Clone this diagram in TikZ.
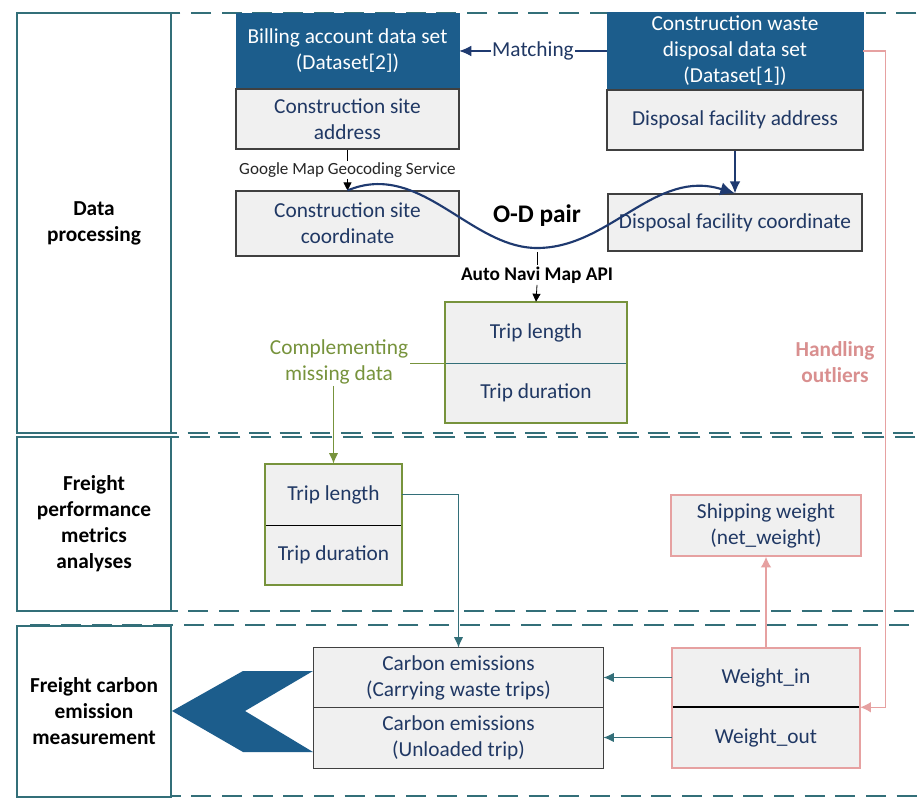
\documentclass[tikz,border=0pt]{standalone}
\usepackage{fontspec}
\setmainfont{Carlito}
\usetikzlibrary{fit,arrows.meta}
\definecolor{navy}{HTML}{203864}
\definecolor{curvecol}{HTML}{1F3A70}
\definecolor{tealc}{HTML}{336F79}
\definecolor{greenc}{HTML}{77933C}
\definecolor{pinkc}{HTML}{E6A1A1}
\definecolor{pinktext}{HTML}{D98F8F}
\definecolor{hblue}{HTML}{1C5D8C}
\definecolor{cellgray}{HTML}{F0F0F0}
\definecolor{edgegray}{HTML}{404040}
\tikzset{
  txt/.style={font=\fontsize{16}{19.5}\selectfont},
  sect/.style={draw=tealc, line width=1.5pt, dash pattern=on 15pt off 8pt},
  panel/.style={draw=tealc, line width=1.1pt, fill=white, inner sep=0pt},
  paneltext/.style={font=\fontsize{16}{19.5}\selectfont\bfseries, text=black, align=center, inner sep=0pt},
  hdr/.style={fill=hblue, draw=hblue, inner sep=0pt},
  hdrtext/.style={txt, text=white, align=center, inner sep=0pt},
  cell/.style={fill=cellgray, draw=edgegray, line width=0.8pt, inner sep=0pt},
  halfcell/.style={fill=cellgray, inner sep=0pt},
  celltext/.style={txt, text=navy, align=center, inner sep=0pt},
  navyarrow/.style={draw=curvecol, -{Latex[length=9pt,width=8pt]}},
  tealarrow/.style={draw=tealc, line width=1pt, -{Latex[length=8pt,width=7pt]}},
  pinkarrow/.style={draw=pinkc, line width=1pt, -{Latex[length=8pt,width=8pt]}},
  blackarrow/.style={draw=black, line width=0.6pt, -{Triangle[length=6pt,width=6pt]}},
}
\begin{document}
\begin{tikzpicture}[x=0.75pt,y=-0.75pt]
\clip (0,0) rectangle (920,798);
\fill[white] (0,0) rectangle (920,798);

% dashed sections
\draw[sect] (25,13) rectangle (940,433);
\draw[sect] (25,437) rectangle (940,611);
\draw[sect] (25,625) rectangle (940,796);

% left panels
\node[panel, fit={(17,13) (171,433)}] (p1) {};
\node[paneltext] (p1t) at (p1.center) {Data\\processing};
\node[panel, fit={(17,437) (171,611)}] (p2) {};
\node[paneltext] (p2t) at (p2.center) {Freight\\performance\\metrics\\analyses};
\node[panel, fit={(17,626) (171,797)}] (p3) {};
\node[paneltext] (p3t) at (p3.center) {Freight carbon\\emission\\measurement};

% top boxes
\node[hdr, fit={(236,13) (459,89)}] (billh) {};
\node[hdrtext] (billht) at (billh.center) {Billing account data set\\(Dataset[2])};
\node[cell, fit={(236,89) (459,149)}] (billl) {};
\node[celltext] (billlt) at (billl.center) {Construction site\\address};
\node[hdr, fit={(607,12) (863,90)}] (cwh) {};
\node[hdrtext] (cwht) at (cwh.center) {Construction waste\\disposal data set\\(Dataset[1])};
\node[cell, fit={(607,90) (863,150)}] (cwl) {};
\node[celltext] (cwlt) at (cwl.center) {Disposal facility address};
\node[cell, fit={(236,191) (459,256)}] (csc) {};
\node[celltext] (csct) at (csc.center) {Construction site\\coordinate};
\node[cell, fit={(608,194) (862,251)}] (dfc) {};
\node[celltext] (dfct) at (dfc.center) {Disposal facility coordinate};

% trip box 1
\node[halfcell, fit={(445,302) (627,363)}] (t1a) {};
\node[halfcell, fit={(445,363) (627,423)}] (t1b) {};
\node[celltext] (t1at) at (t1a.center) {Trip length};
\node[celltext] (t1bt) at (t1b.center) {Trip duration};
\draw[tealc, line width=0.7pt] (t1a.south west) -- (t1a.south east);
\draw[greenc, line width=1.6pt] (t1a.north west) rectangle (t1b.south east);

% trip box 2
\node[halfcell, fit={(265,464) (402,525)}] (t2a) {};
\node[halfcell, fit={(265,525) (402,585)}] (t2b) {};
\node[celltext] (t2at) at (t2a.center) {Trip length};
\node[celltext] (t2bt) at (t2b.center) {Trip duration};
\draw[black, line width=1pt] (t2a.south west) -- (t2a.south east);
\draw[greenc, line width=1.6pt] (t2a.north west) rectangle (t2b.south east);

% shipping weight
\node[cell, draw=pinkc, line width=1.2pt, fit={(671,495) (861,556)}] (ship) {};
\node[celltext] (shipt) at (ship.center) {Shipping weight\\(net\_weight)};

% carbon
\node[halfcell, fit={(314,648) (603,707)}] (ci) {};
\node[halfcell, fit={(314,707) (603,768)}] (co) {};
\node[celltext] (cit) at (ci.center) {Carbon emissions\\(Carrying waste trips)};
\node[celltext] (cot) at (co.center) {Carbon emissions\\(Unloaded trip)};
\draw[edgegray, line width=0.8pt] (ci.south west) -- (ci.south east);
\draw[edgegray, line width=0.8pt] (ci.north west) rectangle (co.south east);

% weight
\node[halfcell, fit={(672,648) (860,707)}] (wi) {};
\node[halfcell, fit={(672,707) (860,768)}] (wo) {};
\node[celltext] (wit) at (wi.center) {Weight\_in};
\node[celltext] (wot) at (wo.center) {Weight\_out};
\draw[black, line width=1.3pt] (wi.south west) -- (wi.south east);
\draw[pinkc, line width=1.5pt] (wi.north west) rectangle (wo.south east);

% chevron
\fill[hblue] (243,671) -- (313,671) -- (245,711) -- (313,752) -- (243,752) -- (172,711) -- cycle;

% Matching
\draw[navyarrow, line width=0.9pt] (cwh.west) -- node[fill=white, inner sep=1pt, txt, text=navy] {Matching} (billh.east);

% Google
\node[font=\fontsize{12.8}{14}\selectfont, text=black!85, inner sep=1pt] (gm) at (347.5,170) {Google Map Geocoding Service};
\draw[black, line width=0.6pt] (billl.south) -- (gm.north);
\draw[blackarrow] (gm.south) -- (csc.north);

% disposal address -> coordinate
\draw[navyarrow, line width=1.3pt] (cwl.south) -- (dfc.north);

% O-D curve
\coordinate (odb) at (537,248);
\coordinate (odlow) at (537,252);
\draw[curvecol, line width=1.6pt, -{Latex[length=11pt,width=10pt]}] (csc.north) .. controls (420,160) and (470,248) .. (odb) .. controls (610,248) and (655,168) .. (dfc.north);
\node[font=\fontsize{19}{22}\selectfont\bfseries, text=black] (od) at (537,216) {O-D pair};

% Auto Navi
\node[font=\fontsize{14.5}{16}\selectfont\bfseries, text=black, inner sep=1pt] (an) at (537,275) {Auto Navi Map API};
\draw[black, line width=0.6pt] (odlow) -- (an.north);
\draw[blackarrow] (an.south) -- (t1a.north);

% Complementing
\node[txt, text=greenc, align=center, inner sep=1pt] (cm) at (339,362) {Complementing\\missing data};
\draw[greenc, line width=1pt] (t1a.south west) -- (t1a.south west -| cm.east);
\draw[greenc, line width=1pt, -{Latex[length=8pt,width=7pt]}] (t2a.north |- cm.south) -- (t2a.north);

% trip -> carbon
\draw[tealarrow] (t2a.east) -| (ci.north);

% weight -> carbon
\draw[tealarrow] (wi.west) -- (ci.east);
\draw[tealarrow] (wo.west) -- (co.east);

% weight -> shipping
\draw[pinkarrow] (wi.north) -- (ship.south);

% handling outliers
\node[font=\fontsize{16}{19.5}\selectfont\bfseries, text=pinktext, align=center] (ho) at (835,362) {Handling\\outliers};
\draw[pinkarrow] (cwh.east) -- ++(22,0) |- (wi.south east);
\end{tikzpicture}
\end{document}
